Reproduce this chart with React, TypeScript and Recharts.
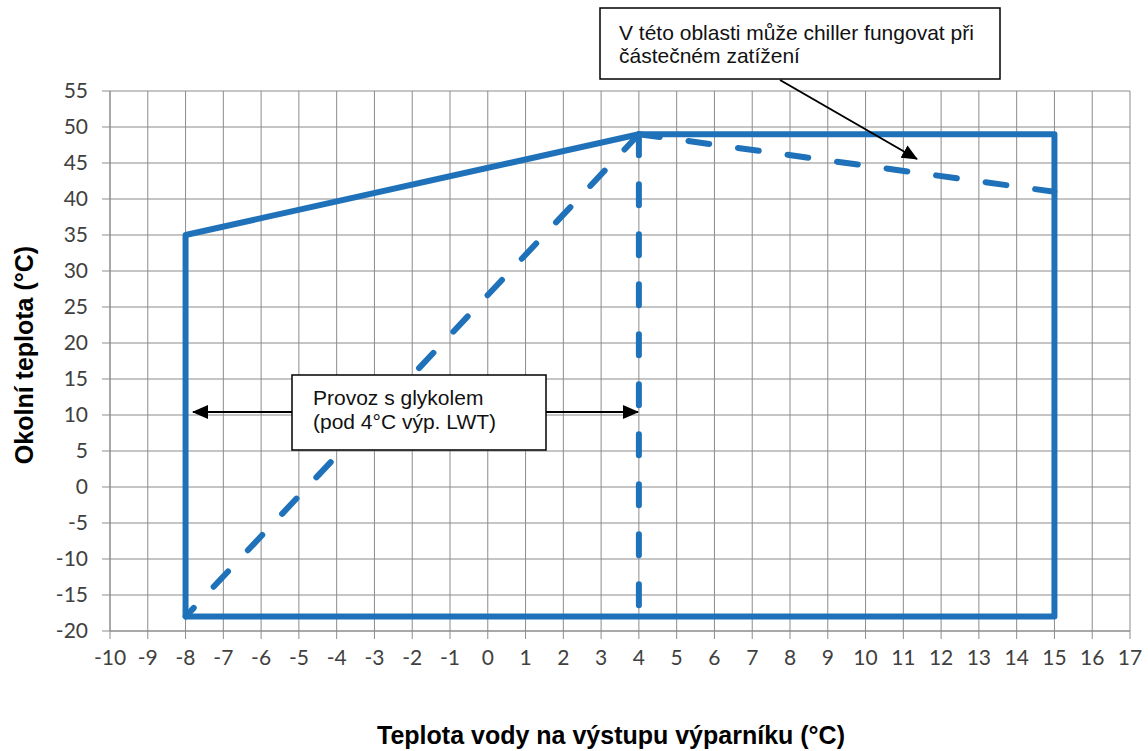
import React from "react";
import { LineChart, Line, XAxis, YAxis, CartesianGrid } from "recharts";

// Axis ticks
const xTicks = [-10, -9, -8, -7, -6, -5, -4, -3, -2, -1, 0, 1, 2, 3, 4, 5, 6, 7, 8, 9, 10, 11, 12, 13, 14, 15, 16, 17];
const yTicks = [-20, -15, -10, -5, 0, 5, 10, 15, 20, 25, 30, 35, 40, 45, 50, 55];

// Operating envelope (solid)
const envelopeX = [-8, -8, 4, 15, 15, -8];
const envelopeY = [-18, 35, 49, 49, -18, -18];

// Glycol diagonal (dashed)
const glycolDiagX = [4, -8];
const glycolDiagY = [49, -18];

// Vertical 4°C limit (dashed)
const limitX = [4, 4];
const limitY = [49, -18];

// Part-load upper limit (dashed)
const partLoadX = [4, 15];
const partLoadY = [49, 41];

const toPts = (xs: number[], ys: number[]) => xs.map((x, i) => ({ x, y: ys[i] }));

const BLUE = "#1f72b9";
const GRID = "#8c8c8c";
const W = 1148;
const H = 751;
const ARIAL = "'Liberation Sans', Arial, sans-serif";

export default function App() {
  const tickStyle = { fontFamily: "Lato, 'Open Sans', sans-serif", fontSize: 21, fill: "#404040" };
  const dashProps = {
    stroke: BLUE,
    strokeWidth: 6,
    strokeDasharray: "21 29",
    strokeLinecap: "round" as const,
    dot: false,
    activeDot: false,
    isAnimationActive: false,
  };
  return (
    <div style={{ position: "absolute", left: 0, top: 0, width: W, height: H, background: "#fff" }}>
      <LineChart width={W} height={H} margin={{ top: 91, right: 18, left: 0, bottom: 0 }}>
        <CartesianGrid stroke={GRID} strokeWidth={1} vertical horizontal />
        <XAxis
          type="number"
          dataKey="x"
          domain={[-10, 17]}
          ticks={xTicks}
          interval={0}
          height={120}
          tickSize={8}
          tickMargin={11}
          stroke={GRID}
          tick={tickStyle}
          allowDataOverflow
        />
        <YAxis
          type="number"
          dataKey="y"
          domain={[-20, 55]}
          ticks={yTicks}
          interval={0}
          width={110}
          tickSize={8}
          tickMargin={14}
          stroke={GRID}
          tick={tickStyle}
          allowDataOverflow
        />
        <Line data={toPts(glycolDiagX, glycolDiagY)} dataKey="y" {...dashProps} />
        <Line data={toPts(limitX, limitY)} dataKey="y" {...dashProps} />
        <Line data={toPts(partLoadX, partLoadY)} dataKey="y" {...dashProps} />
        <Line
          data={toPts(envelopeX, envelopeY)}
          dataKey="y"
          stroke={BLUE}
          strokeWidth={6}
          strokeLinejoin="round"
          dot={false}
          activeDot={false}
          isAnimationActive={false}
        />
      </LineChart>
      <svg
        width={W}
        height={H}
        style={{ position: "absolute", left: 0, top: 0, pointerEvents: "none" }}
      >
        <defs>
          <marker id="arrBig" markerWidth="16" markerHeight="14" refX="15" refY="7" orient="auto" markerUnits="userSpaceOnUse">
            <path d="M0,0 L16,7 L0,14 z" fill="#000" />
          </marker>
        </defs>
        {/* Top annotation */}
        <rect x={600} y={8} width={400} height={71} fill="#fff" stroke="#000" strokeWidth={1.5} />
        <text x={619} y={40} fontFamily={ARIAL} fontSize={21} fill="#111">
          V této oblasti může chiller fungovat při
        </text>
        <text x={619} y={63} fontFamily={ARIAL} fontSize={21} fill="#111">
          částečném zatížení
        </text>
        <line x1={780} y1={80} x2={917} y2={159} stroke="#000" strokeWidth={2} markerEnd="url(#arrBig)" />

        {/* Glycol annotation */}
        <line x1={292} y1={412} x2={193} y2={412} stroke="#000" strokeWidth={2} markerEnd="url(#arrBig)" />
        <line x1={546} y1={412} x2={638} y2={412} stroke="#000" strokeWidth={2} markerEnd="url(#arrBig)" />
        <rect x={292} y={375} width={254} height={75} fill="#fff" stroke="#000" strokeWidth={1.5} />
        <text x={313} y={405} fontFamily={ARIAL} fontSize={21} fill="#111">
          Provoz s glykolem
        </text>
        <text x={313} y={429} fontFamily={ARIAL} fontSize={21} fill="#111">
          (pod 4°C výp. LWT)
        </text>

        {/* Axis titles */}
        <text
          x={611}
          y={744}
          textAnchor="middle"
          fontFamily={ARIAL}
          fontWeight="bold"
          fontSize={25}
          fill="#000"
        >
          Teplota vody na výstupu výparníku (°C)
        </text>
        <text
          x={0}
          y={0}
          transform="translate(33,355) rotate(-90)"
          textAnchor="middle"
          fontFamily={ARIAL}
          fontWeight="bold"
          fontSize={25}
          fill="#000"
        >
          Okolní teplota (°C)
        </text>
      </svg>
    </div>
  );
}
